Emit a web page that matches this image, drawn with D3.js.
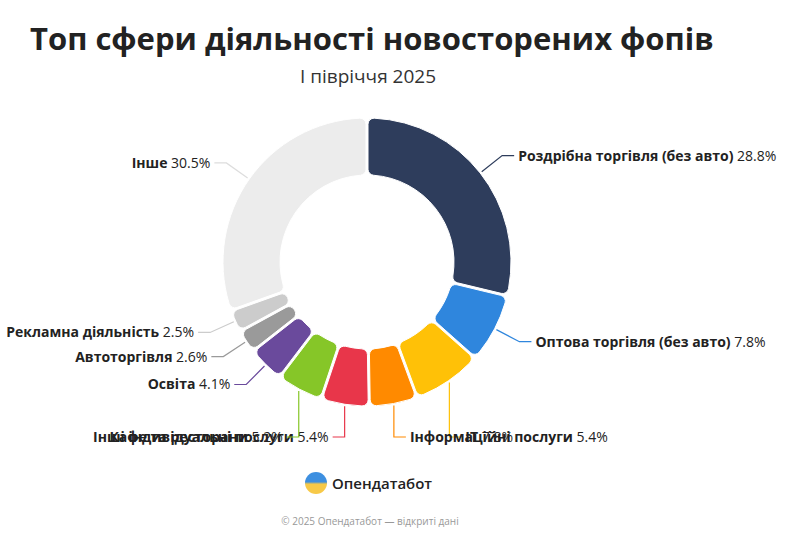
<!DOCTYPE html>
<html><head><meta charset="utf-8">
<script src="https://cdn.jsdelivr.net/npm/d3@7"></script>
<style>body{margin:0;background:#fff}text{font-family:"Open Sans",sans-serif}</style>
</head><body>
<svg id="chart" width="800" height="533"></svg>
<script>
const categories = ["Роздрібна торгівля (без авто)", "Оптова торгівля (без авто)", "IT", "Інформаційні послуги",
  "Інші індивідуальні послуги", "Кафе та ресторани", "Освіта", "Автоторгівля", "Рекламна діяльність", "Інше"];
const values = [28.8, 7.8, 7.8, 5.4, 5.4, 5.2, 4.1, 2.6, 2.5, 30.5];
const colors = ["#2e3d5c", "#2f86dd", "#ffc107", "#ff8a00", "#e8364a", "#86c628", "#6a4a9c", "#9a9a9a", "#cccccc", "#ececec"];

const svg = d3.select("#chart");
const cx = 367, cy = 262, r = 144, r0 = 87;

svg.append("text").attr("x", 30).attr("y", 50).attr("font-size", 31).attr("font-weight", 700)
  .attr("fill", "#222").text("Топ сфери діяльності новосторених фопів");
svg.append("text").attr("x", 368).attr("y", 83).attr("text-anchor", "middle").attr("font-size", 19)
  .attr("fill", "#333").text("I півріччя 2025");

const pie = d3.pie().sort(null).value(d => d)(values);
const arc = d3.arc().innerRadius(r0).outerRadius(r).padAngle(0.012).cornerRadius(6);
const g = svg.append("g").attr("transform", `translate(${cx},${cy})`);
g.selectAll("path").data(pie).enter().append("path")
  .attr("d", arc).attr("fill", (d, i) => colors[i]).attr("stroke", "#fff").attr("stroke-width", 1);

pie.forEach((d, i) => {
  const a = (d.startAngle + d.endAngle) / 2;
  const p1 = [Math.sin(a) * (r + 2), -Math.cos(a) * (r + 2)];
  // bottom slices drop straight down to a common label row
  const p2 = Math.cos(a) < -0.8 ? [p1[0], r + 31] : [Math.sin(a) * (r + 28), -Math.cos(a) * (r + 28)];
  const right = Math.sin(a) >= 0;
  const p3 = [p2[0] + (right ? 12 : -12), p2[1]];
  g.append("polyline").attr("points", [p1, p2, p3].map(p => p.join(",")).join(" "))
    .attr("fill", "none").attr("stroke", colors[i] === "#ececec" ? "#dddddd" : colors[i]).attr("stroke-width", 1.2);
  const t = g.append("text").attr("x", p3[0] + (right ? 4 : -4)).attr("y", p3[1] + 5)
    .attr("text-anchor", right ? "start" : "end").attr("font-size", 14).attr("fill", "#222");
  t.append("tspan").attr("font-weight", 700).text(categories[i] + " ");
  t.append("tspan").text(values[i] + "%");
});

const defs = svg.append("defs");
const lg = defs.append("linearGradient").attr("id", "lg").attr("x1", 0).attr("y1", 0).attr("x2", 0).attr("y2", 1);
lg.append("stop").attr("offset", "45%").attr("stop-color", "#3d8fe0");
lg.append("stop").attr("offset", "55%").attr("stop-color", "#f7c948");
svg.append("circle").attr("cx", 316).attr("cy", 483).attr("r", 11).attr("fill", "url(#lg)");
svg.append("text").attr("x", 332).attr("y", 489).attr("font-size", 15).attr("font-weight", 600)
  .attr("fill", "#222").text("Опендатабот");
svg.append("text").attr("x", 370).attr("y", 525).attr("text-anchor", "middle").attr("font-size", 10)
  .attr("fill", "#999").text("© 2025 Опендатабот — відкриті дані");
</script>
</body></html>
